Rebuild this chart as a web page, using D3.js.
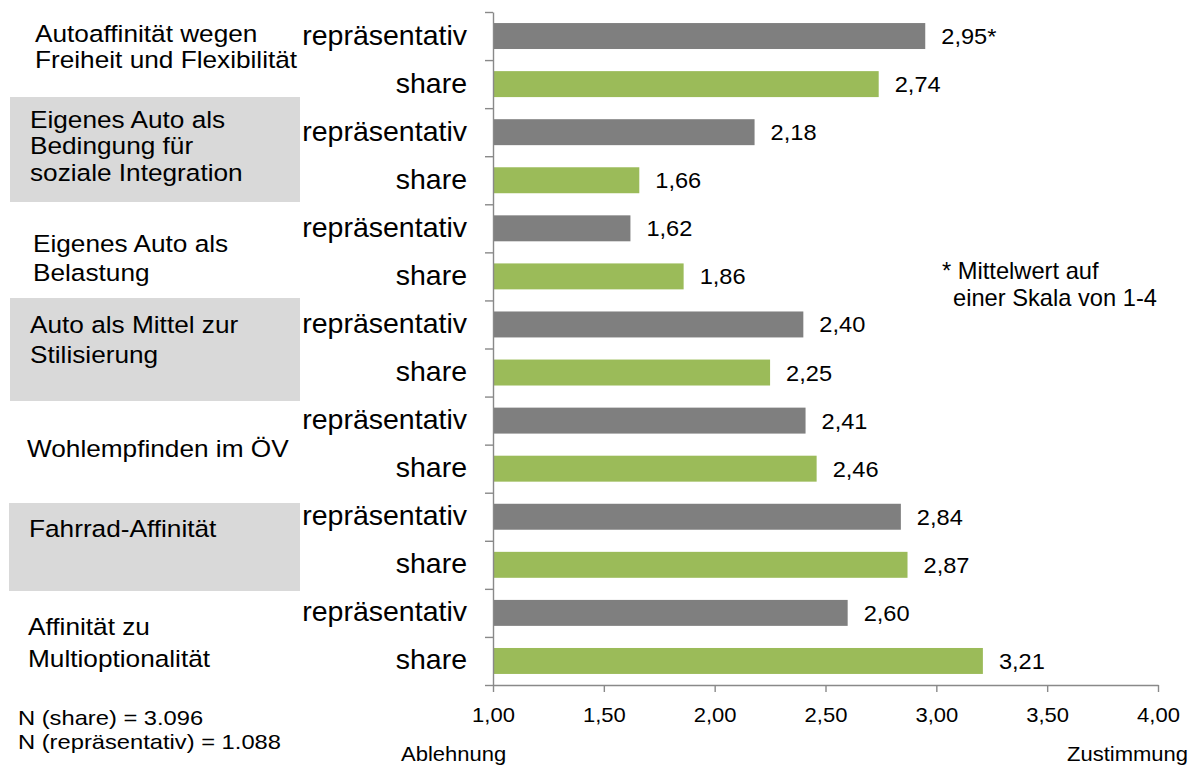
<!DOCTYPE html>
<html>
<head>
<meta charset="utf-8">
<script src="https://cdn.jsdelivr.net/npm/d3@7"></script>
<style>
  html, body { margin: 0; padding: 0; background: #fff; }
  svg { display: block; font-family: "Liberation Sans", Arial, sans-serif; }
</style>
</head>
<body>
<svg id="chart" width="1195" height="766"></svg>
<script>
// ---- data ----
const categories = [
  ["Autoaffinität wegen", "Freiheit und Flexibilität"],
  ["Eigenes Auto als", "Bedingung für", "soziale Integration"],
  ["Eigenes Auto als", "Belastung"],
  ["Auto als Mittel zur", "Stilisierung"],
  ["Wohlempfinden im ÖV"],
  ["Fahrrad-Affinität"],
  ["Affinität zu", "Multioptionalität"]
];
const categoryShaded = [false, true, false, true, false, true, false];
const seriesNames = ["repräsentativ", "share"];
const repraesentativ = [2.95, 2.18, 1.62, 2.40, 2.41, 2.84, 2.60];
const share = [2.74, 1.66, 1.86, 2.25, 2.46, 2.87, 3.21];
const valueSuffixRepr = ["*", "", "", "", "", "", ""];
const xTicks = [1.0, 1.5, 2.0, 2.5, 3.0, 3.5, 4.0];
const xMin = 1, xMax = 4;
const footnote = ["* Mittelwert auf", "einer Skala von 1-4"];
const sampleNotes = ["N (share) = 3.096", "N (repräsentativ) = 1.088"];
const axisEnds = ["Ablehnung", "Zustimmung"];

// ---- layout ----
const colors = { "repräsentativ": "#7f7f7f", "share": "#9bbb59" };
const axisColor = "#898989";
const plot = { left: 493, right: 1158, top: 12, bottom: 685 };

const rows = [];
categories.forEach((c, i) => {
  rows.push({ cat: i, series: seriesNames[0], value: repraesentativ[i], suffix: valueSuffixRepr[i] });
  rows.push({ cat: i, series: seriesNames[1], value: share[i], suffix: "" });
});

const svg = d3.select("#chart");
const x = d3.scaleLinear().domain([xMin, xMax]).range([plot.left, plot.right]);
const y = d3.scaleBand().domain(d3.range(rows.length))
  .range([plot.top, plot.bottom]).paddingInner(0.46).paddingOuter(0.23);
const yIdx = d3.scaleLinear().domain([0, rows.length]).range([plot.top, plot.bottom]);
const de = d3.formatLocale({ decimal: ",", thousands: ".", grouping: [3], currency: ["", "€"] });
const fmt = de.format(".2f");

function txt(parent, px, py, str, size, sx, anchor) {
  return parent.append("text")
    .attr("transform", `translate(${px},${py}) scale(${sx},1)`)
    .attr("font-size", size)
    .attr("text-anchor", anchor || "start")
    .attr("fill", "#000")
    .text(str);
}

// ---- shaded category boxes ----
const boxes = [
  null,
  { x: 10, y0: 97, y1: 202 },
  null,
  { x: 10, y0: 298, y1: 401 },
  null,
  { x: 9, y0: 503, y1: 591 },
  null
];
categoryShaded.forEach((s, i) => {
  if (s && boxes[i]) {
    svg.append("rect").attr("x", boxes[i].x).attr("y", boxes[i].y0)
      .attr("width", 300 - boxes[i].x).attr("height", boxes[i].y1 - boxes[i].y0)
      .attr("fill", "#d9d9d9");
  }
});

// ---- category labels ----
const catPos = [
  { x: 35, ys: [42, 68] },
  { x: 30, ys: [128, 154, 181] },
  { x: 33, ys: [252, 281] },
  { x: 30, ys: [333, 363] },
  { x: 27, ys: [457] },
  { x: 29, ys: [537] },
  { x: 28, ys: [635, 667] }
];
categories.forEach((lines, i) => {
  lines.forEach((l, j) => txt(svg, catPos[i].x, catPos[i].ys[j], l, 24.5, 1.07, "start"));
});

// ---- bars ----
svg.append("g").selectAll("rect").data(rows).join("rect")
  .attr("x", x(xMin))
  .attr("y", (d, i) => y(i))
  .attr("width", d => x(d.value) - x(xMin))
  .attr("height", y.bandwidth())
  .attr("fill", d => colors[d.series]);

// value labels
const vl = svg.append("g");
rows.forEach((d, i) => {
  txt(vl, x(d.value) + 16, y(i) + y.bandwidth() / 2 + 8, fmt(d.value) + d.suffix, 22.5, 1.05, "start");
});

// series labels
const sl = svg.append("g");
rows.forEach((d, i) => {
  txt(sl, 467, y(i) + y.bandwidth() / 2 + 8.5, d.series, 28.5, 1.0, "end");
});

// ---- axes ----
const leftAxis = svg.append("g").attr("transform", `translate(${plot.left},0)`)
  .call(d3.axisLeft(yIdx).tickValues(d3.range(rows.length + 1)).tickFormat("").tickSize(8).tickSizeOuter(0));
leftAxis.selectAll("path, line").attr("stroke", axisColor).attr("stroke-width", 1.4);

const bottomAxis = svg.append("g").attr("transform", `translate(0,${plot.bottom})`)
  .call(d3.axisBottom(x).tickValues(xTicks).tickFormat(fmt).tickSize(7).tickSizeOuter(0));
bottomAxis.selectAll("path, line").attr("stroke", axisColor).attr("stroke-width", 1.4);
bottomAxis.selectAll(".tick text")
  .attr("y", null).attr("dy", null)
  .attr("transform", `translate(0,${722 - plot.bottom}) scale(1.1,1)`)
  .attr("font-size", 20)
  .attr("font-family", "Liberation Sans, Arial, sans-serif")
  .attr("fill", "#000");

// ---- notes ----
txt(svg, 942, 279, footnote[0], 23, 1.03, "start");
txt(svg, 953, 306, footnote[1], 23, 1.03, "start");
txt(svg, 18, 725, sampleNotes[0], 21, 1.13, "start");
txt(svg, 18, 749, sampleNotes[1], 21, 1.13, "start");
txt(svg, 401, 761, axisEnds[0], 20, 1.1, "start");
txt(svg, 1188, 761, axisEnds[1], 20, 1.1, "end");
</script>
</body>
</html>
